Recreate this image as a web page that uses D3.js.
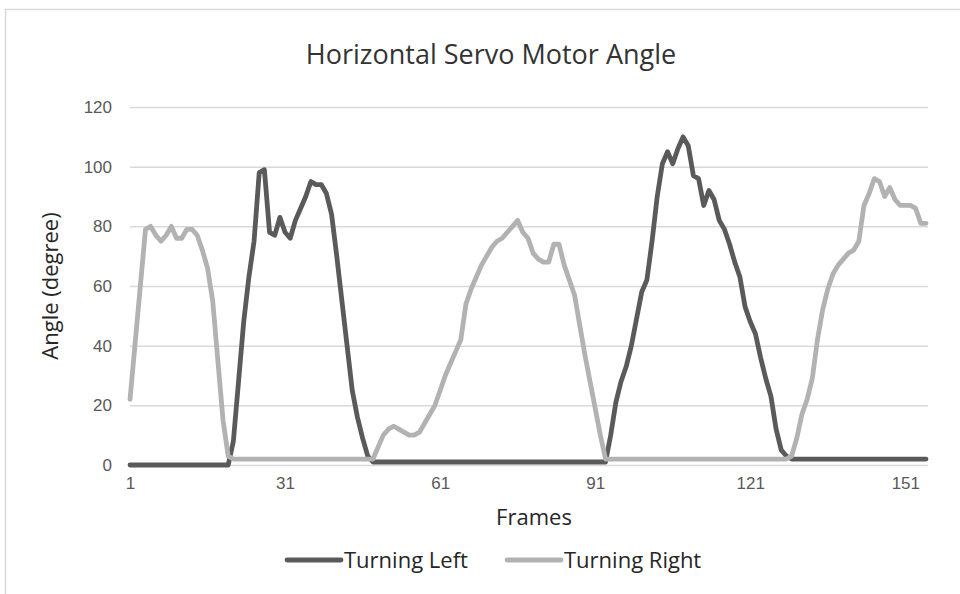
<!DOCTYPE html>
<html>
<head>
<meta charset="utf-8">
<script src="https://cdn.jsdelivr.net/npm/d3@7"></script>
<style>
    body { margin: 0; background: #fff; }
    svg { display: block; font-family: 'Open Sans', 'Noto Sans', sans-serif; }
</style>
</head>
<body>
<div id="chart"></div>
<script>
// frame categories and the tick labels shown on the x axis
const frames = d3.range(1, 156)
const xTickLabels = [1, 31, 61, 91, 121, 151]
const yTickLabels = [0, 20, 40, 60, 80, 100, 120]

const turningLeft = [
    0, 0, 0, 0, 0, 0, 0, 0, 0, 0,
    0, 0, 0, 0, 0, 0, 0, 0, 0, 0,
    8, 28, 48, 63, 75, 98, 99, 78, 77, 83,
    78, 76, 82, 86, 90, 95, 94, 94, 91, 84,
    70, 55, 40, 25, 16, 9, 3, 1, 1, 1,
    1, 1, 1, 1, 1, 1, 1, 1, 1, 1,
    1, 1, 1, 1, 1, 1, 1, 1, 1, 1,
    1, 1, 1, 1, 1, 1, 1, 1, 1, 1,
    1, 1, 1, 1, 1, 1, 1, 1, 1, 1,
    1, 1, 1, 10, 21, 28, 33, 40, 49, 58,
    62, 75, 90, 101, 105, 101, 106, 110, 107, 97,
    96, 87, 92, 89, 82, 79, 74, 68, 63, 53,
    48, 44, 36, 29, 23, 12, 5, 3, 2, 2,
    2, 2, 2, 2, 2, 2, 2, 2, 2, 2,
    2, 2, 2, 2, 2, 2, 2, 2, 2, 2,
    2, 2, 2, 2, 2
]

const turningRight = [
    22, 41, 60, 79, 80, 77, 75, 77, 80, 76,
    76, 79, 79, 77, 72, 66, 55, 35, 15, 3,
    2, 2, 2, 2, 2, 2, 2, 2, 2, 2,
    2, 2, 2, 2, 2, 2, 2, 2, 2, 2,
    2, 2, 2, 2, 2, 2, 2, 2, 6, 10,
    12, 13, 12, 11, 10, 10, 11, 14, 17, 20,
    25, 30, 34, 38, 42, 54, 59, 63, 67, 70,
    73, 75, 76, 78, 80, 82, 78, 76, 71, 69,
    68, 68, 74, 74, 67, 62, 57, 47, 37, 28,
    19, 10, 2, 2, 2, 2, 2, 2, 2, 2,
    2, 2, 2, 2, 2, 2, 2, 2, 2, 2,
    2, 2, 2, 2, 2, 2, 2, 2, 2, 2,
    2, 2, 2, 2, 2, 2, 2, 2, 3, 9,
    17, 22, 29, 42, 52, 59, 64, 67, 69, 71,
    72, 75, 87, 91, 96, 95, 90, 93, 89, 87,
    87, 87, 86, 81, 81
]

const seriesNames = ['Turning Left', 'Turning Right']
const seriesColors = ['#5a5a5a', '#b2b2b2']

const width = 960
const height = 594
const plotLeft = 130
const plotRight = 926
const plotTop = 107
const plotBottom = 465

const svg = d3.select('#chart')
    .append('svg')
    .attr('width', width)
    .attr('height', height)

// chart border (right and bottom edges fall outside the picture)
svg.append('rect')
    .attr('x', 5.5)
    .attr('y', 9.5)
    .attr('width', 1000)
    .attr('height', 700)
    .attr('fill', '#fff')
    .attr('stroke', '#d9d9d9')
    .attr('stroke-width', 1.5)

const xScale = d3.scaleLinear().domain([1, frames.length]).range([plotLeft, plotRight])
const yScale = d3.scaleLinear().domain([0, 120]).range([plotBottom, plotTop])

// gridlines
svg.append('g')
    .attr('class', 'grid')
    .attr('transform', `translate(${plotLeft}, 0)`)
    .call(d3.axisLeft(yScale).tickValues(yTickLabels).tickSize(-(plotRight + 2 - plotLeft)).tickFormat(''))
    .call((g) => g.select('.domain').remove())
    .call((g) => g.selectAll('line').attr('stroke', '#d9d9d9').attr('stroke-width', 1.5))

// y axis labels
svg.append('g')
    .attr('id', 'y-axis')
    .attr('transform', `translate(${plotLeft - 6}, 0)`)
    .call(d3.axisLeft(yScale).tickValues(yTickLabels).tickSize(0).tickPadding(12))
    .call((g) => g.select('.domain').remove())
    .call((g) => g.selectAll('text').attr('fill', '#595959').style('font-size', '17px'))

// x axis labels
svg.append('g')
    .attr('id', 'x-axis')
    .attr('transform', `translate(0, ${plotBottom})`)
    .call(d3.axisBottom(xScale).tickValues(xTickLabels).tickSize(0).tickPadding(12))
    .call((g) => g.select('.domain').remove())
    .call((g) => g.selectAll('text').attr('fill', '#595959').style('font-size', '17px'))

const line = d3.line()
    .x((d, i) => xScale(frames[i]))
    .y((d) => yScale(d))

const series = [turningLeft, turningRight]
svg.selectAll('path.series')
    .data(series)
    .enter()
    .append('path')
    .attr('class', 'series')
    .attr('d', line)
    .attr('fill', 'none')
    .attr('stroke', (d, i) => seriesColors[i])
    .attr('stroke-width', 4.8)
    .attr('stroke-linejoin', 'round')
    .attr('stroke-linecap', 'round')

// title and axis titles
svg.append('text')
    .attr('x', 491)
    .attr('y', 64)
    .attr('text-anchor', 'middle')
    .attr('fill', '#333')
    .style('font-size', '27px')
    .text('Horizontal Servo Motor Angle')

svg.append('text')
    .attr('transform', `translate(58, ${(plotTop + plotBottom) / 2}) rotate(-90)`)
    .attr('text-anchor', 'middle')
    .attr('fill', '#262626')
    .style('font-size', '22px')
    .text('Angle (degree)')

svg.append('text')
    .attr('x', 534)
    .attr('y', 525)
    .attr('text-anchor', 'middle')
    .attr('fill', '#262626')
    .style('font-size', '22px')
    .text('Frames')

// legend
const legendX = [285, 505]
const legend = svg.selectAll('g.legend')
    .data(seriesNames)
    .enter()
    .append('g')
    .attr('class', 'legend')
    .attr('transform', (d, i) => `translate(${legendX[i]}, 560)`)
legend.append('line')
    .attr('x1', 2)
    .attr('x2', 56)
    .attr('stroke', (d, i) => seriesColors[i])
    .attr('stroke-width', 4.8)
    .attr('stroke-linecap', 'round')
legend.append('text')
    .attr('x', 59)
    .attr('y', 8)
    .attr('fill', '#262626')
    .style('font-size', '22px')
    .text((d) => d)
</script>
</body>
</html>
